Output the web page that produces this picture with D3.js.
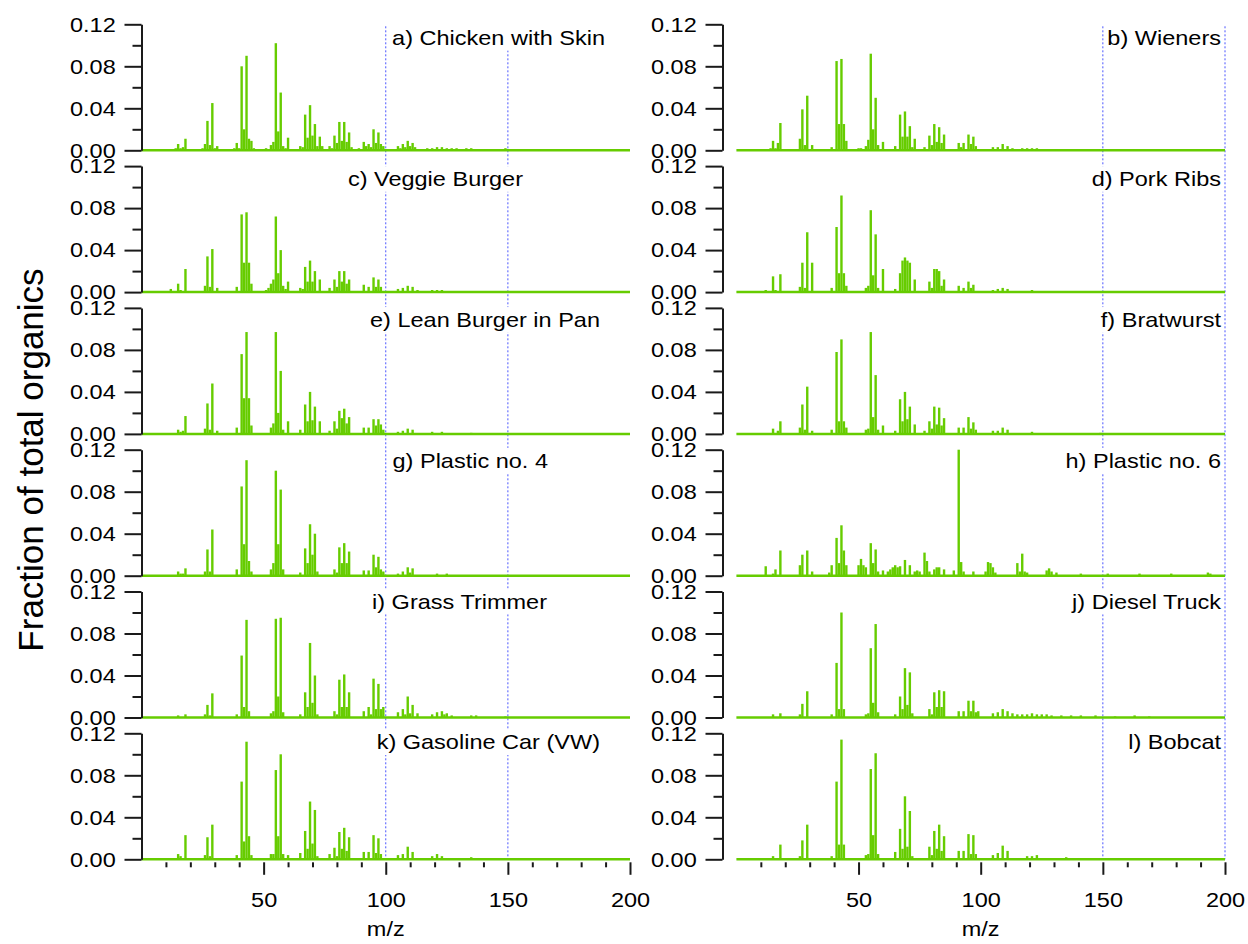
<!DOCTYPE html>
<html>
<head>
<meta charset="utf-8">
<script src="https://cdn.jsdelivr.net/npm/d3@7"></script>
<style>
  body { margin: 0; background: #fff; }
  svg text { font-family: "Liberation Sans", Arial, sans-serif; fill: #000; }
</style>
</head>
<body>
<svg id="chart" width="1248" height="944"></svg>
<script>
// ---- data: [m/z, fraction of total organics] ----
const chickenSkin = [[12,0.001],[14,0.002],[15,0.006],[16,0.002],[17,0.003],[18,0.011],[24,0.001],[25,0.002],[26,0.006],[27,0.028],[28,0.005],[29,0.045],[30,0.002],[31,0.004],
  [38,0.002],[39,0.007],[40,0.002],[41,0.080],[42,0.020],[43,0.090],[44,0.011],[45,0.009],[46,0.002],[50,0.001],[51,0.002],[53,0.005],[54,0.008],[55,0.102],[56,0.018],[57,0.055],[58,0.004],[59,0.002],[60,0.012],
  [65,0.004],[66,0.003],[67,0.034],[68,0.012],[69,0.043],[70,0.014],[71,0.025],[72,0.004],[73,0.013],[74,0.004],[77,0.004],[78,0.002],[79,0.014],[80,0.007],[81,0.027],[82,0.009],[83,0.027],[84,0.008],[85,0.017],[86,0.003],
  [89,0.002],[91,0.008],[92,0.004],[93,0.006],[94,0.003],[95,0.020],[96,0.007],[97,0.017],[98,0.006],[99,0.004],[105,0.004],[106,0.002],[107,0.006],[108,0.003],[109,0.009],[110,0.004],[111,0.007],[112,0.003],
  [117,0.002],[119,0.002],[121,0.003],[123,0.003],[125,0.002],[127,0.002],[129,0.002],[133,0.002],[135,0.002],[141,0.001],[149,0.002],[163,0.001],[177,0.001]];
const wieners = [[14,0.002],[15,0.009],[16,0.002],[17,0.007],[18,0.026],[25,0.001],[26,0.011],[27,0.039],[28,0.005],[29,0.052],[31,0.005],
  [39,0.003],[41,0.085],[42,0.025],[43,0.087],[44,0.025],[45,0.009],[50,0.002],[51,0.002],[53,0.004],[54,0.010],[55,0.092],[56,0.020],[57,0.050],[58,0.005],[60,0.008],
  [65,0.004],[67,0.034],[68,0.013],[69,0.037],[70,0.013],[71,0.023],[72,0.003],[73,0.011],[77,0.003],[79,0.014],[80,0.005],[81,0.025],[82,0.008],[83,0.022],[84,0.007],[85,0.015],
  [91,0.007],[92,0.003],[93,0.007],[95,0.015],[96,0.006],[97,0.013],[98,0.004],[105,0.003],[107,0.003],[109,0.006],[111,0.004],[113,0.002],[117,0.002],[119,0.002],[121,0.002],[123,0.002],[131,0.001],[149,0.001],[163,0.001]];
const veggieBurger = [[12,0.003],[15,0.008],[16,0.002],[18,0.022],[26,0.006],[27,0.034],[28,0.005],[29,0.041],[31,0.004],
  [39,0.005],[41,0.074],[42,0.028],[43,0.076],[44,0.028],[45,0.008],[51,0.002],[52,0.004],[53,0.008],[54,0.012],[55,0.072],[56,0.018],[57,0.040],[58,0.006],[59,0.003],[60,0.010],
  [65,0.004],[66,0.003],[67,0.024],[68,0.010],[69,0.030],[70,0.010],[71,0.020],[73,0.012],[77,0.004],[79,0.012],[80,0.005],[81,0.020],[82,0.010],[83,0.020],[84,0.008],[85,0.012],
  [91,0.007],[93,0.005],[95,0.014],[96,0.005],[97,0.012],[98,0.005],[105,0.003],[107,0.004],[109,0.006],[111,0.005],[113,0.002],[119,0.002],[121,0.002],[123,0.002],[135,0.001]];
const porkRibs = [[12,0.002],[15,0.015],[16,0.002],[18,0.017],[26,0.005],[27,0.028],[28,0.004],[29,0.057],[31,0.028],
  [39,0.004],[41,0.062],[42,0.018],[43,0.092],[44,0.018],[45,0.006],[53,0.004],[54,0.006],[55,0.078],[56,0.016],[57,0.055],[58,0.004],[60,0.022],
  [65,0.003],[67,0.018],[68,0.030],[69,0.033],[70,0.030],[71,0.028],[73,0.012],[79,0.010],[80,0.004],[81,0.022],[82,0.022],[83,0.020],[84,0.006],[85,0.012],
  [91,0.006],[93,0.004],[95,0.010],[96,0.004],[97,0.007],[105,0.002],[107,0.003],[109,0.004],[111,0.003],[121,0.002],[135,0.001]];
const leanBurger = [[15,0.004],[16,0.002],[17,0.003],[18,0.017],[26,0.005],[27,0.029],[28,0.004],[29,0.048],[31,0.003],
  [39,0.006],[41,0.076],[42,0.034],[43,0.097],[44,0.034],[45,0.008],[53,0.006],[54,0.010],[55,0.097],[56,0.020],[57,0.060],[58,0.004],[60,0.012],
  [65,0.004],[67,0.028],[68,0.012],[69,0.040],[70,0.013],[71,0.026],[73,0.012],[77,0.003],[79,0.012],[80,0.005],[81,0.022],[82,0.015],[83,0.024],[84,0.010],[85,0.016],
  [91,0.006],[93,0.006],[95,0.014],[96,0.008],[97,0.014],[98,0.009],[99,0.004],[105,0.002],[107,0.003],[109,0.005],[111,0.004],[119,0.002],[123,0.002],[135,0.001]];
const bratwurst = [[15,0.005],[17,0.003],[18,0.012],[26,0.006],[27,0.028],[28,0.004],[29,0.045],[31,0.003],
  [39,0.004],[41,0.078],[42,0.012],[43,0.090],[44,0.012],[45,0.006],[53,0.004],[54,0.005],[55,0.097],[56,0.016],[57,0.056],[58,0.004],[60,0.008],
  [65,0.003],[67,0.033],[68,0.012],[69,0.040],[70,0.014],[71,0.026],[73,0.009],[77,0.003],[79,0.012],[80,0.005],[81,0.026],[82,0.009],[83,0.025],[84,0.008],[85,0.015],
  [91,0.006],[93,0.006],[95,0.016],[96,0.005],[97,0.011],[98,0.004],[105,0.003],[107,0.003],[109,0.006],[111,0.004],[121,0.002],[149,0.001]];
const plastic4 = [[15,0.004],[16,0.002],[17,0.002],[18,0.007],[26,0.004],[27,0.025],[28,0.004],[29,0.044],
  [39,0.006],[41,0.085],[42,0.030],[43,0.110],[44,0.014],[45,0.004],[53,0.006],[54,0.012],[55,0.100],[56,0.030],[57,0.082],[58,0.006],
  [65,0.003],[67,0.026],[68,0.012],[69,0.049],[70,0.020],[71,0.040],[72,0.004],[79,0.006],[80,0.003],[81,0.027],[82,0.012],[83,0.031],[84,0.012],[85,0.023],
  [91,0.005],[93,0.005],[95,0.020],[96,0.008],[97,0.018],[98,0.006],[99,0.004],[105,0.002],[107,0.004],[109,0.008],[110,0.003],[111,0.007],[121,0.002],[125,0.002]];
const plastic6 = [[12,0.009],[15,0.002],[16,0.006],[18,0.024],[26,0.010],[27,0.020],[29,0.024],[31,0.004],[38,0.003],
  [39,0.010],[41,0.036],[42,0.012],[43,0.048],[44,0.024],[45,0.010],[50,0.010],[51,0.016],[52,0.010],[53,0.008],[55,0.031],[56,0.012],[57,0.025],[58,0.004],[60,0.005],
  [62,0.004],[63,0.006],[64,0.008],[65,0.010],[66,0.008],[67,0.009],[69,0.015],[71,0.010],[73,0.004],[74,0.005],[75,0.004],[77,0.022],[78,0.014],[79,0.004],[81,0.006],[82,0.008],[83,0.008],[85,0.006],
  [89,0.005],[91,0.120],[92,0.013],[93,0.004],[97,0.004],[102,0.004],[103,0.013],[104,0.012],[105,0.008],[106,0.003],[115,0.012],[116,0.004],[117,0.021],[118,0.004],
  [119,0.003],[127,0.005],[128,0.007],[129,0.004],[131,0.003],[141,0.002],[152,0.002],[165,0.002],[178,0.002],[193,0.003],[194,0.002]];
const grassTrimmer = [[15,0.002],[18,0.003],[26,0.003],[27,0.012],[28,0.002],[29,0.023],
  [39,0.003],[41,0.059],[42,0.010],[43,0.093],[44,0.006],[53,0.004],[54,0.006],[55,0.094],[56,0.020],[57,0.095],[58,0.005],
  [65,0.003],[67,0.024],[68,0.010],[69,0.071],[70,0.014],[71,0.040],[72,0.003],[79,0.006],[80,0.003],[81,0.036],[82,0.010],[83,0.041],[84,0.010],[85,0.024],
  [91,0.006],[93,0.010],[94,0.003],[95,0.037],[96,0.008],[97,0.032],[98,0.008],[99,0.010],[105,0.005],[107,0.008],[108,0.003],[109,0.020],[110,0.004],[111,0.012],[113,0.004],
  [119,0.003],[121,0.005],[123,0.006],[124,0.003],[125,0.004],[127,0.002],[135,0.002],[137,0.002],[149,0.001]];
const dieselTruck = [[15,0.003],[18,0.004],[26,0.003],[27,0.013],[29,0.025],
  [39,0.003],[41,0.052],[42,0.008],[43,0.100],[44,0.008],[53,0.003],[54,0.004],[55,0.066],[56,0.014],[57,0.089],[58,0.005],
  [65,0.003],[67,0.020],[68,0.008],[69,0.047],[70,0.012],[71,0.043],[72,0.004],[79,0.008],[80,0.003],[81,0.024],[82,0.010],[83,0.026],[84,0.010],[85,0.025],
  [91,0.006],[93,0.006],[95,0.016],[96,0.006],[97,0.016],[98,0.005],[99,0.006],[105,0.004],[107,0.005],[109,0.008],[111,0.006],[113,0.004],
  [115,0.003],[117,0.003],[119,0.003],[121,0.004],[123,0.003],[125,0.003],[127,0.003],[129,0.002],[133,0.002],[137,0.002],[141,0.002],[147,0.002],[155,0.001],[163,0.002],[169,0.001]];
const gasolineCar = [[15,0.005],[16,0.003],[18,0.023],[26,0.004],[27,0.021],[28,0.003],[29,0.033],
  [39,0.004],[41,0.074],[42,0.017],[43,0.112],[44,0.022],[45,0.004],[53,0.005],[54,0.005],[55,0.085],[56,0.022],[57,0.100],[58,0.005],[60,0.004],
  [65,0.006],[67,0.027],[68,0.010],[69,0.055],[70,0.015],[71,0.047],[72,0.003],[77,0.005],[79,0.011],[80,0.003],[81,0.026],[82,0.010],[83,0.030],[84,0.008],[85,0.021],
  [91,0.007],[93,0.007],[95,0.023],[96,0.006],[97,0.020],[98,0.005],[105,0.004],[107,0.005],[109,0.012],[111,0.007],[119,0.003],[121,0.005],[123,0.003],[135,0.002],[149,0.001]];
const bobcat = [[15,0.003],[18,0.014],[26,0.003],[27,0.018],[29,0.033],
  [39,0.003],[41,0.074],[42,0.014],[43,0.114],[44,0.014],[53,0.004],[54,0.005],[55,0.086],[56,0.023],[57,0.101],[58,0.005],
  [65,0.007],[67,0.029],[68,0.010],[69,0.060],[70,0.012],[71,0.046],[72,0.003],[79,0.012],[80,0.004],[81,0.027],[82,0.010],[83,0.033],[84,0.008],[85,0.022],
  [91,0.008],[93,0.008],[95,0.024],[96,0.005],[97,0.023],[98,0.005],[105,0.004],[107,0.006],[109,0.013],[111,0.008],[119,0.003],[121,0.003],[123,0.004],[135,0.002],[149,0.001]];

const spectra = [chickenSkin, wieners, veggieBurger, porkRibs, leanBurger, bratwurst,
                 plastic4, plastic6, grassTrimmer, dieselTruck, gasolineCar, bobcat];
const panelLabels = ["a) Chicken with Skin", "b) Wieners", "c) Veggie Burger", "d) Pork Ribs",
                     "e) Lean Burger in Pan", "f) Bratwurst", "g) Plastic no. 4", "h) Plastic no. 6",
                     "i) Grass Trimmer", "j) Diesel Truck", "k) Gasoline Car (VW)", "l) Bobcat"];
const yTicks = [0, 0.04, 0.08, 0.12];
const yMinorTicks = [0.02, 0.06, 0.10];
const xTicks = [50, 100, 150, 200];
const xMinorTicks = [10, 20, 30, 40, 60, 70, 80, 90, 110, 120, 130, 140, 160, 170, 180, 190];
const refLines = [[100, 150], [150, 200]];   // dotted guides, left / right column

// ---- layout ----
const green = "#66cc00";
const axisColor = "#1a1a1a";
const fs = 21, sx = 1.12;   // font size, horizontal stretch of the original figure
const cols = [
  { x0: 141.5, x1: 630, axisX: 141.5, labelRight: [605, 523, 600, 548, 547, 600] },
  { x0: 736.4, x1: 1225, axisX: 722.5, labelRight: [1221, 1221, 1221, 1221, 1221, 1221] }
];
const labelDy = [20.5, 20, 19, 18, 17, 16];
const rowTop = 24.3, rowPitch = 141.8, panelH = 126;
const nRows = 6;
const bottomBase = rowTop + (nRows - 1) * rowPitch + panelH;

const svg = d3.select("#chart");

cols.forEach((c, ci) => {
  const x = d3.scaleLinear().domain([0, 200]).range([c.x0, c.x1]);
  c.x = x;

  // dotted guide lines spanning the whole column
  svg.append("g").selectAll("line")
    .data(refLines[ci])
    .join("line")
    .attr("x1", d => x(d)).attr("x2", d => x(d))
    .attr("y1", rowTop + 2).attr("y2", bottomBase)
    .attr("stroke", "#4a55ff")
    .attr("stroke-width", 1)
    .attr("stroke-dasharray", "2,2");
});

spectra.forEach((data, i) => {
  const ci = i % 2, row = Math.floor(i / 2);
  const c = cols[ci];
  const x = c.x;
  const yBase = rowTop + row * rowPitch + panelH;
  const y = d3.scaleLinear().domain([0, 0.12]).range([yBase, yBase - panelH]);

  const g = svg.append("g");

  // baseline of the stick spectrum
  g.append("line")
    .attr("x1", x(0)).attr("x2", x(200))
    .attr("y1", y(0)).attr("y2", y(0))
    .attr("stroke", green).attr("stroke-width", 2.5);

  // sticks
  g.selectAll("rect.bar")
    .data(data)
    .join("rect")
    .attr("class", "bar")
    .attr("x", d => x(d[0]) - 1.2)
    .attr("width", 2.4)
    .attr("y", d => y(d[1]))
    .attr("height", d => y(0) - y(d[1]))
    .attr("fill", green);

  // y axis (major + minor)
  const yAxis = g.append("g")
    .attr("transform", `translate(${c.axisX},0)`)
    .call(d3.axisLeft(y).tickValues(yTicks).tickSize(17).tickSizeOuter(0).tickPadding(6)
      .tickFormat(d3.format(".2f")));
  g.append("g")
    .attr("transform", `translate(${c.axisX},0)`)
    .call(d3.axisLeft(y).tickValues(yMinorTicks).tickSize(9).tickSizeOuter(0).tickFormat(""))
    .select(".domain").remove();
  g.selectAll(".tick line").attr("stroke", axisColor).attr("stroke-width", 2);
  g.selectAll(".domain").attr("stroke", axisColor).attr("stroke-width", 2);
  yAxis.selectAll("text")
    .attr("font-size", fs)
    .attr("font-family", "Liberation Sans, Arial, sans-serif")
    .attr("transform", `scale(${sx},1)`);

  // panel label on a white box
  const lab = svg.append("g")
    .attr("transform", `translate(${c.labelRight[row]},${yBase - panelH + labelDy[row]}) scale(${sx},1)`);
  const t = lab.append("text")
    .attr("text-anchor", "end")
    .attr("font-size", fs)
    .text(panelLabels[i]);
  const bb = t.node().getBBox();
  lab.insert("rect", "text")
    .attr("x", bb.x - 1).attr("y", bb.y - 1)
    .attr("width", bb.width + 2).attr("height", bb.height + 2)
    .attr("fill", "#fff");
});

// bottom x axes
cols.forEach((c, ci) => {
  const x = c.x;
  const gx = svg.append("g").attr("transform", `translate(0,${bottomBase + 3})`);
  gx.append("g")
    .call(d3.axisBottom(x).tickValues(xMinorTicks).tickSize(5).tickSizeOuter(0).tickFormat(""));
  const major = gx.append("g")
    .call(d3.axisBottom(x).tickValues(xTicks).tickSize(12.5).tickSizeOuter(0).tickFormat(d3.format("d")));
  gx.selectAll(".domain").remove();
  gx.selectAll(".tick line").attr("stroke", axisColor).attr("stroke-width", 2);
  major.selectAll("text")
    .attr("font-size", fs)
    .attr("font-family", "Liberation Sans, Arial, sans-serif")
    .attr("y", 44.5).attr("dy", 0)
    .attr("transform", `scale(${sx},1)`);

  svg.append("text")
    .attr("transform", `translate(${x(100)},${bottomBase + 77}) scale(${sx},1)`)
    .attr("text-anchor", "middle")
    .attr("font-size", fs)
    .text("m/z");
});

// y title
svg.append("text")
  .attr("transform", `translate(43,460) rotate(-90)`)
  .attr("text-anchor", "middle")
  .attr("font-size", 35)
  .text("Fraction of total organics");
</script>
</body>
</html>
